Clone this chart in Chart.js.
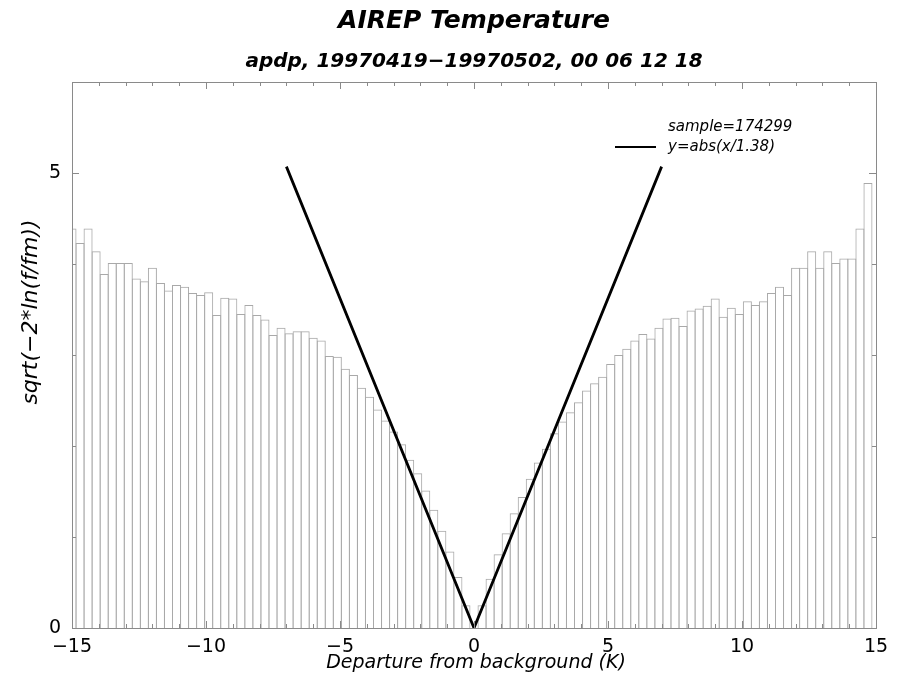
<!DOCTYPE html>
<html>
<head>
<meta charset="utf-8">
<script src="https://cdn.jsdelivr.net/npm/chart.js@4"></script>
<style>
  html, body { margin: 0; padding: 0; background: #fff; }
  #wrap { width: 905px; height: 681px; }
</style>
</head>
<body>
<div id="wrap"><canvas id="airepChart" width="905" height="681"></canvas></div>
<script>
// bin centres (K), 0.3 K wide bins
const binCenters = [
  -15, -14.7, -14.4, -14.1, -13.8, -13.5, -13.2, -12.9, -12.6, -12.3,
  -12, -11.7, -11.4, -11.1, -10.8, -10.5, -10.2, -9.9, -9.6, -9.3,
  -9, -8.7, -8.4, -8.1, -7.8, -7.5, -7.2, -6.9, -6.6, -6.3,
  -6, -5.7, -5.4, -5.1, -4.8, -4.5, -4.2, -3.9, -3.6, -3.3,
  -3, -2.7, -2.4, -2.1, -1.8, -1.5, -1.2, -0.9, -0.6, -0.3,
  0,
  0.3, 0.6, 0.9, 1.2, 1.5, 1.8, 2.1, 2.4, 2.7, 3,
  3.3, 3.6, 3.9, 4.2, 4.5, 4.8, 5.1, 5.4, 5.7, 6,
  6.3, 6.6, 6.9, 7.2, 7.5, 7.8, 8.1, 8.4, 8.7, 9,
  9.3, 9.6, 9.9, 10.2, 10.5, 10.8, 11.1, 11.4, 11.7, 12,
  12.3, 12.6, 12.9, 13.2, 13.5, 13.8, 14.1, 14.4, 14.7, 15
];

// sqrt(-2*ln(f/fm)) per bin
const binValues = [
  4.39, 4.23, 4.39, 4.14, 3.89, 4.01, 4.01, 4.01, 3.84, 3.81,
  3.96, 3.79, 3.71, 3.77, 3.75, 3.68, 3.66, 3.69, 3.44, 3.63,
  3.62, 3.45, 3.55, 3.44, 3.39, 3.22, 3.30, 3.24, 3.26, 3.26,
  3.19, 3.16, 2.99, 2.98, 2.85, 2.78, 2.64, 2.54, 2.40, 2.28,
  2.16, 2.02, 1.85, 1.70, 1.51, 1.30, 1.07, 0.84, 0.56, 0.25,
  0,
  0.25, 0.54, 0.81, 1.04, 1.26, 1.44, 1.64, 1.82, 1.97, 2.14,
  2.27, 2.37, 2.48, 2.61, 2.69, 2.76, 2.90, 3.00, 3.07, 3.16,
  3.23, 3.18, 3.30, 3.40, 3.41, 3.32, 3.49, 3.51, 3.54, 3.62,
  3.42, 3.52, 3.45, 3.59, 3.55, 3.59, 3.68, 3.75, 3.66, 3.96,
  3.96, 4.14, 3.96, 4.14, 4.01, 4.06, 4.06, 4.39, 4.89, null
];

// fitted curve y = abs(x/1.38)
const fitX = [-7, 0, 7];
const fitY = [5.07, 0, 5.07];

const xTickLabels = [-15, -10, -5, 0, 5, 10, 15];
const yTickLabels = [0, 5];

const titleText = 'AIREP Temperature';
const subtitleText = 'apdp, 19970419\u221219970502, 00 06 12 18';
const xTitleText = 'Departure from background (K)';
const yTitleText = 'sqrt(\u22122*ln(f/fm))';
const sampleText = 'sample=174299';
const fitText = 'y=abs(x/1.38)';

const FONT = '"DejaVu Sans", Verdana, sans-serif';

// plain text, centred / left / right on x, optionally rotated
function putText(ctx, text, x, y, font, align, angle) {
  ctx.save();
  ctx.font = font;
  ctx.fillStyle = '#000';
  ctx.textBaseline = 'middle';
  ctx.textAlign = align;
  ctx.translate(x, y);
  if (angle) ctx.rotate(angle);
  ctx.fillText(text, 0, 0);
  ctx.restore();
}

// inward tick marks on all four sides + frame
const frameTicks = {
  id: 'frameTicks',
  afterDatasetsDraw(chart) {
    const { ctx, chartArea: a, scales } = chart;
    ctx.save();
    ctx.strokeStyle = '#8a8a8a';
    ctx.lineWidth = 1;
    ctx.beginPath();
    scales.x.ticks.forEach(t => {
      const px = Math.round(scales.x.getPixelForValue(t.value)) + 0.5;
      const len = t.value % 5 === 0 ? 7 : 4;
      ctx.moveTo(px, a.bottom); ctx.lineTo(px, a.bottom - len);
      ctx.moveTo(px, a.top); ctx.lineTo(px, a.top + len);
    });
    scales.y.ticks.forEach(t => {
      const py = Math.round(scales.y.getPixelForValue(t.value)) + 0.5;
      const len = t.value % 5 === 0 ? 7 : 4;
      ctx.moveTo(a.left, py); ctx.lineTo(a.left + len, py);
      ctx.moveTo(a.right, py); ctx.lineTo(a.right - len, py);
    });
    ctx.stroke();
    ctx.strokeRect(Math.round(a.left) + 0.5, Math.round(a.top) + 0.5,
      Math.round(a.right - a.left), Math.round(a.bottom - a.top));
    ctx.restore();
  }
};

// titles, tick labels, axis titles and legend text
const chartTexts = {
  id: 'chartTexts',
  afterDraw(chart) {
    const { ctx, chartArea: a, scales } = chart;
    const cx = (a.left + a.right) / 2;
    putText(ctx, titleText, cx, 21, 'oblique bold 25px ' + FONT, 'center');
    putText(ctx, subtitleText, cx, 62, 'oblique bold 20px ' + FONT, 'center');

    xTickLabels.forEach(v => {
      const px = scales.x.getPixelForValue(v);
      putText(ctx, String(v).replace('-', '\u2212'), px, 647, '19px ' + FONT, 'center');
    });
    yTickLabels.forEach(v => {
      const py = scales.y.getPixelForValue(v);
      putText(ctx, String(v), a.left - 11, py, '19px ' + FONT, 'right');
    });

    putText(ctx, xTitleText, cx + 2, 663, 'oblique 19px ' + FONT, 'center');
    putText(ctx, yTitleText, 31, 312, 'oblique 22px ' + FONT, 'center', -Math.PI / 2);

    // legend
    ctx.save();
    ctx.strokeStyle = '#000';
    ctx.lineWidth = 2;
    ctx.beginPath();
    ctx.moveTo(615, 147); ctx.lineTo(656, 147);
    ctx.stroke();
    ctx.restore();
    putText(ctx, sampleText, 668, 127, 'oblique 15px ' + FONT, 'left');
    putText(ctx, fitText, 668, 147, 'oblique 15px ' + FONT, 'left');
  }
};

new Chart(document.getElementById('airepChart'), {
  type: 'bar',
  data: {
    datasets: [
      {
        type: 'line',
        data: fitX.map((x, i) => ({ x: x, y: fitY[i] })),
        borderColor: '#000',
        borderWidth: 2.8,
        pointRadius: 0,
        fill: false,
        tension: 0,
        order: 0
      },
      {
        type: 'bar',
        data: binCenters.map((x, i) => ({ x: x, y: binValues[i] })),
        backgroundColor: 'rgba(0,0,0,0)',
        borderColor: '#a9a9a9',
        borderWidth: 1,
        inflateAmount: 0,
        // one pixel wider than the bin so neighbouring outlines share an edge
        barPercentage: 1.1244,
        categoryPercentage: 1,
        clip: 0,
        order: 1
      }
    ]
  },
  options: {
    responsive: false,
    animation: false,
    layout: { padding: { top: 82, right: 29, bottom: 0, left: 0 } },
    plugins: {
      legend: { display: false },
      tooltip: { enabled: false },
      title: { display: false },
      subtitle: { display: false }
    },
    scales: {
      x: {
        type: 'linear',
        min: -15,
        max: 15,
        offset: false,
        afterFit(scale) { scale.height = 53; },
        grid: { display: false, drawTicks: false },
        border: { display: false },
        ticks: { stepSize: 1, autoSkip: false, display: false }
      },
      y: {
        type: 'linear',
        min: 0,
        max: 6,
        afterFit(scale) { scale.width = 72; },
        grid: { display: false, drawTicks: false },
        border: { display: false },
        ticks: { stepSize: 1, autoSkip: false, display: false }
      }
    }
  },
  plugins: [frameTicks, chartTexts]
});
</script>
</body>
</html>
